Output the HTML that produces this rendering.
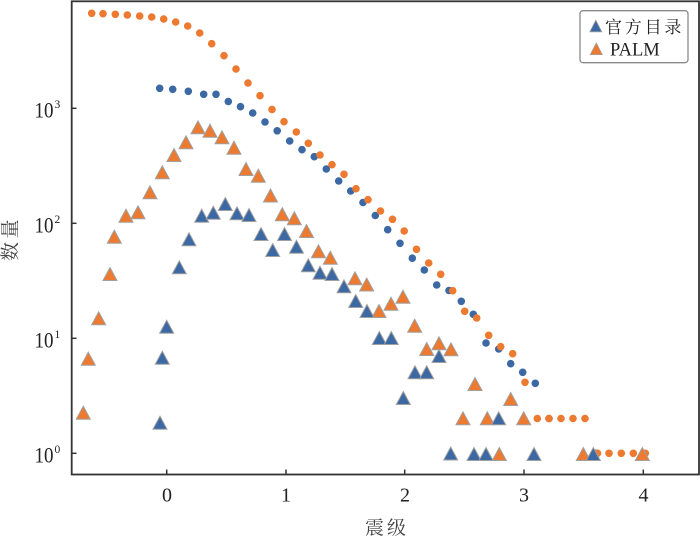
<!DOCTYPE html>
<html><head><meta charset="utf-8"><style>
html,body{margin:0;padding:0;background:#fff;}
svg{display:block;}
</style></head><body>
<svg width="700" height="538" viewBox="0 0 700 538" xmlns="http://www.w3.org/2000/svg">
<defs>
<path id="to" d="M0,-6.5 L7,6.5 L-7,6.5 Z" fill="#EC7A31" stroke="#a0a0a0" stroke-width="1"/>
<path id="tb" d="M0,-6.5 L7,6.5 L-7,6.5 Z" fill="#3C69A3" stroke="#a0a0a0" stroke-width="1"/>
<circle id="co" r="3.8" fill="#EC7A31"/>
<circle id="cb" r="3.8" fill="#3C69A3"/>
<path id="lto" d="M0,-5.8 L6,5.8 L-6,5.8 Z" fill="#EC7A31" stroke="#a0a0a0" stroke-width="0.8"/>
<path id="ltb" d="M0,-5.8 L6,5.8 L-6,5.8 Z" fill="#3C69A3" stroke="#a0a0a0" stroke-width="0.8"/>
</defs>
<rect width="700" height="538" fill="#fff"/>

<!-- blue circles -->
<g>
<use href="#cb" x="159.7" y="88.3"/><use href="#cb" x="172.7" y="89.3"/><use href="#cb" x="188.3" y="91.3"/><use href="#cb" x="203.7" y="94.3"/><use href="#cb" x="216" y="94.3"/><use href="#cb" x="228.3" y="101.5"/><use href="#cb" x="240.5" y="106.7"/><use href="#cb" x="252.7" y="113"/><use href="#cb" x="265" y="122"/><use href="#cb" x="277.2" y="130.8"/><use href="#cb" x="289.7" y="141"/><use href="#cb" x="302" y="149.7"/><use href="#cb" x="314.3" y="156.7"/><use href="#cb" x="326.3" y="169"/><use href="#cb" x="338.7" y="181"/><use href="#cb" x="350.7" y="191"/><use href="#cb" x="363" y="202.5"/><use href="#cb" x="375.3" y="215.5"/><use href="#cb" x="387.7" y="229.7"/><use href="#cb" x="400" y="243.3"/><use href="#cb" x="412.3" y="258.2"/><use href="#cb" x="424.3" y="270"/><use href="#cb" x="436.7" y="285"/><use href="#cb" x="449" y="290.5"/><use href="#cb" x="461.3" y="301.3"/><use href="#cb" x="473.3" y="314.3"/><use href="#cb" x="486" y="343"/><use href="#cb" x="498.7" y="349"/><use href="#cb" x="510.7" y="363.7"/><use href="#cb" x="522.7" y="372.3"/><use href="#cb" x="535.3" y="383.3"/><use href="#cb" x="549" y="418.5"/><use href="#cb" x="595.5" y="453.3"/>
</g>
<!-- orange circles -->
<g>
<use href="#co" x="91.7" y="13.3"/><use href="#co" x="103" y="13.7"/><use href="#co" x="115.3" y="14.3"/><use href="#co" x="127.3" y="15"/><use href="#co" x="139.7" y="16"/><use href="#co" x="151.7" y="17"/><use href="#co" x="163.7" y="19"/><use href="#co" x="175.7" y="22"/><use href="#co" x="187.7" y="26"/><use href="#co" x="199.7" y="33"/><use href="#co" x="211.7" y="43.7"/><use href="#co" x="224" y="55.7"/><use href="#co" x="236" y="69"/><use href="#co" x="248" y="83"/><use href="#co" x="260" y="95.7"/><use href="#co" x="272" y="109.5"/><use href="#co" x="284" y="121.7"/><use href="#co" x="296.3" y="132"/><use href="#co" x="308.3" y="143.3"/><use href="#co" x="320" y="155"/><use href="#co" x="332" y="164.7"/><use href="#co" x="344" y="174.3"/><use href="#co" x="356" y="188.7"/><use href="#co" x="368" y="199.7"/><use href="#co" x="380.5" y="211"/><use href="#co" x="392.5" y="219.3"/><use href="#co" x="404.2" y="231"/><use href="#co" x="416.5" y="249.3"/><use href="#co" x="428.7" y="263"/><use href="#co" x="440.7" y="274.3"/><use href="#co" x="452.7" y="290.7"/><use href="#co" x="464.7" y="311.3"/><use href="#co" x="476.7" y="318"/><use href="#co" x="488.7" y="335.3"/><use href="#co" x="500.7" y="346.7"/><use href="#co" x="512.7" y="353.7"/><use href="#co" x="525" y="382.3"/><use href="#co" x="537.3" y="418.5"/><use href="#co" x="549" y="418.5"/><use href="#co" x="561" y="418.5"/><use href="#co" x="573" y="418.5"/><use href="#co" x="585" y="418.5"/><use href="#co" x="597.5" y="453.3"/><use href="#co" x="609" y="453.3"/><use href="#co" x="621.3" y="453.3"/><use href="#co" x="633.3" y="453.3"/><use href="#co" x="645.3" y="453.3"/>
</g>
<!-- orange triangles -->
<g>
<use href="#to" x="83.3" y="412.7"/><use href="#to" x="88.3" y="358.7"/><use href="#to" x="98.7" y="318.3"/><use href="#to" x="110" y="274"/><use href="#to" x="114.3" y="236.7"/><use href="#to" x="126" y="215.7"/><use href="#to" x="138" y="212.3"/><use href="#to" x="150" y="192.3"/><use href="#to" x="162.3" y="172.3"/><use href="#to" x="174" y="155"/><use href="#to" x="186" y="142.3"/><use href="#to" x="198" y="127.3"/><use href="#to" x="210" y="130.7"/><use href="#to" x="222" y="137.3"/><use href="#to" x="234" y="147.7"/><use href="#to" x="246" y="169"/><use href="#to" x="258.3" y="175.7"/><use href="#to" x="270.5" y="195.5"/><use href="#to" x="282.3" y="214.2"/><use href="#to" x="294.3" y="218.2"/><use href="#to" x="306.5" y="231"/><use href="#to" x="318.5" y="251.2"/><use href="#to" x="330.3" y="257.7"/><use href="#to" x="355" y="278.3"/><use href="#to" x="366.7" y="284.5"/><use href="#to" x="379" y="311"/><use href="#to" x="391" y="303.7"/><use href="#to" x="403" y="296.7"/><use href="#to" x="414.7" y="325.7"/><use href="#to" x="426.7" y="349"/><use href="#to" x="439" y="343.3"/><use href="#to" x="451" y="349.3"/><use href="#to" x="463" y="418.3"/><use href="#to" x="475" y="384"/><use href="#to" x="487.3" y="418.3"/><use href="#to" x="499.3" y="454"/><use href="#to" x="510.7" y="399"/><use href="#to" x="523.7" y="418.3"/><use href="#to" x="583.3" y="454"/><use href="#to" x="642.3" y="454"/>
</g>
<!-- blue triangles -->
<g>
<use href="#tb" x="160" y="422.7"/><use href="#tb" x="162.3" y="357.7"/><use href="#tb" x="166.7" y="326.7"/><use href="#tb" x="179.3" y="267.3"/><use href="#tb" x="189" y="239.3"/><use href="#tb" x="201.7" y="215.7"/><use href="#tb" x="213.3" y="212.7"/><use href="#tb" x="225.3" y="204"/><use href="#tb" x="237" y="213.3"/><use href="#tb" x="249" y="215"/><use href="#tb" x="261" y="234"/><use href="#tb" x="272.7" y="250"/><use href="#tb" x="284.5" y="234"/><use href="#tb" x="296.5" y="246.7"/><use href="#tb" x="308.3" y="265.3"/><use href="#tb" x="320" y="272.7"/><use href="#tb" x="332" y="274"/><use href="#tb" x="344" y="286.3"/><use href="#tb" x="355.7" y="301"/><use href="#tb" x="367" y="311"/><use href="#tb" x="379.3" y="338"/><use href="#tb" x="391.3" y="338"/><use href="#tb" x="403.3" y="398"/><use href="#tb" x="415" y="372.3"/><use href="#tb" x="426.7" y="372.3"/><use href="#tb" x="439" y="356"/><use href="#tb" x="450.7" y="453.5"/><use href="#tb" x="474" y="454"/><use href="#tb" x="486" y="454"/><use href="#tb" x="498.7" y="418.3"/><use href="#tb" x="534" y="454"/><use href="#tb" x="593.3" y="454"/>
</g>

<!-- frame -->
<rect x="71.7" y="1.3" width="627.3" height="473.2" fill="none" stroke="#333" stroke-width="1.8"/>
<!-- y ticks -->
<g stroke="#333" stroke-width="1.5">
<line x1="72" y1="453.3" x2="76.5" y2="453.3"/>
<line x1="72" y1="338.3" x2="76.5" y2="338.3"/>
<line x1="72" y1="223.3" x2="76.5" y2="223.3"/>
<line x1="72" y1="108.3" x2="76.5" y2="108.3"/>
<line x1="166.7" y1="474" x2="166.7" y2="469.5"/>
<line x1="286" y1="474" x2="286" y2="469.5"/>
<line x1="404.7" y1="474" x2="404.7" y2="469.5"/>
<line x1="524" y1="474" x2="524" y2="469.5"/>
<line x1="643.3" y1="474" x2="643.3" y2="469.5"/>
</g>

<!-- y tick labels -->
<g font-family="'Liberation Serif', serif" fill="#222">
<g transform="translate(53.5,462.5) scale(0.95,1.12)"><text x="0" y="0" font-size="20" text-anchor="end">10</text></g>
<text x="54.5" y="453" font-size="11.5">0</text>
<g transform="translate(53.5,347.5) scale(0.95,1.12)"><text x="0" y="0" font-size="20" text-anchor="end">10</text></g>
<text x="54.5" y="338" font-size="11.5">1</text>
<g transform="translate(53.5,232.5) scale(0.95,1.12)"><text x="0" y="0" font-size="20" text-anchor="end">10</text></g>
<text x="54.5" y="223" font-size="11.5">2</text>
<g transform="translate(53.5,117.5) scale(0.95,1.12)"><text x="0" y="0" font-size="20" text-anchor="end">10</text></g>
<text x="54.5" y="108" font-size="11.5">3</text>
</g>
<!-- x tick labels -->
<g font-family="'Liberation Serif', serif" fill="#222" font-size="20" text-anchor="middle">
<text x="167" y="501.5">0</text>
<text x="286" y="501.5">1</text>
<text x="405" y="501.5">2</text>
<text x="524" y="501.5">3</text>
<text x="643.5" y="501.5">4</text>
</g>

<!-- axis labels -->
<text x="387" y="534" font-family="'Liberation Serif','Noto Serif CJK SC','Noto Sans CJK SC',serif" font-size="19" letter-spacing="3" text-anchor="middle" fill="#444">震级</text>
<g transform="translate(9.5,261) rotate(-90)">
<text x="0" y="7" font-family="'Liberation Serif','Noto Serif CJK SC','Noto Sans CJK SC',serif" font-size="19" letter-spacing="3.5" fill="#444">数量</text>
</g>

<!-- legend -->
<rect x="580" y="10.7" width="108" height="52" rx="3" ry="3" fill="#fff" stroke="#8a8a8a" stroke-width="1.3"/>
<use href="#ltb" x="595.8" y="26"/>
<use href="#lto" x="596.3" y="48.8"/>
<text x="605" y="33" font-family="'Liberation Serif','Noto Serif CJK SC','Noto Sans CJK SC',serif" font-size="17" letter-spacing="2.8" fill="#222">官方目录</text>
<text x="610" y="55.5" font-family="'Liberation Serif', serif" font-size="18.5" fill="#222">PALM</text>
</svg>
</body></html>
